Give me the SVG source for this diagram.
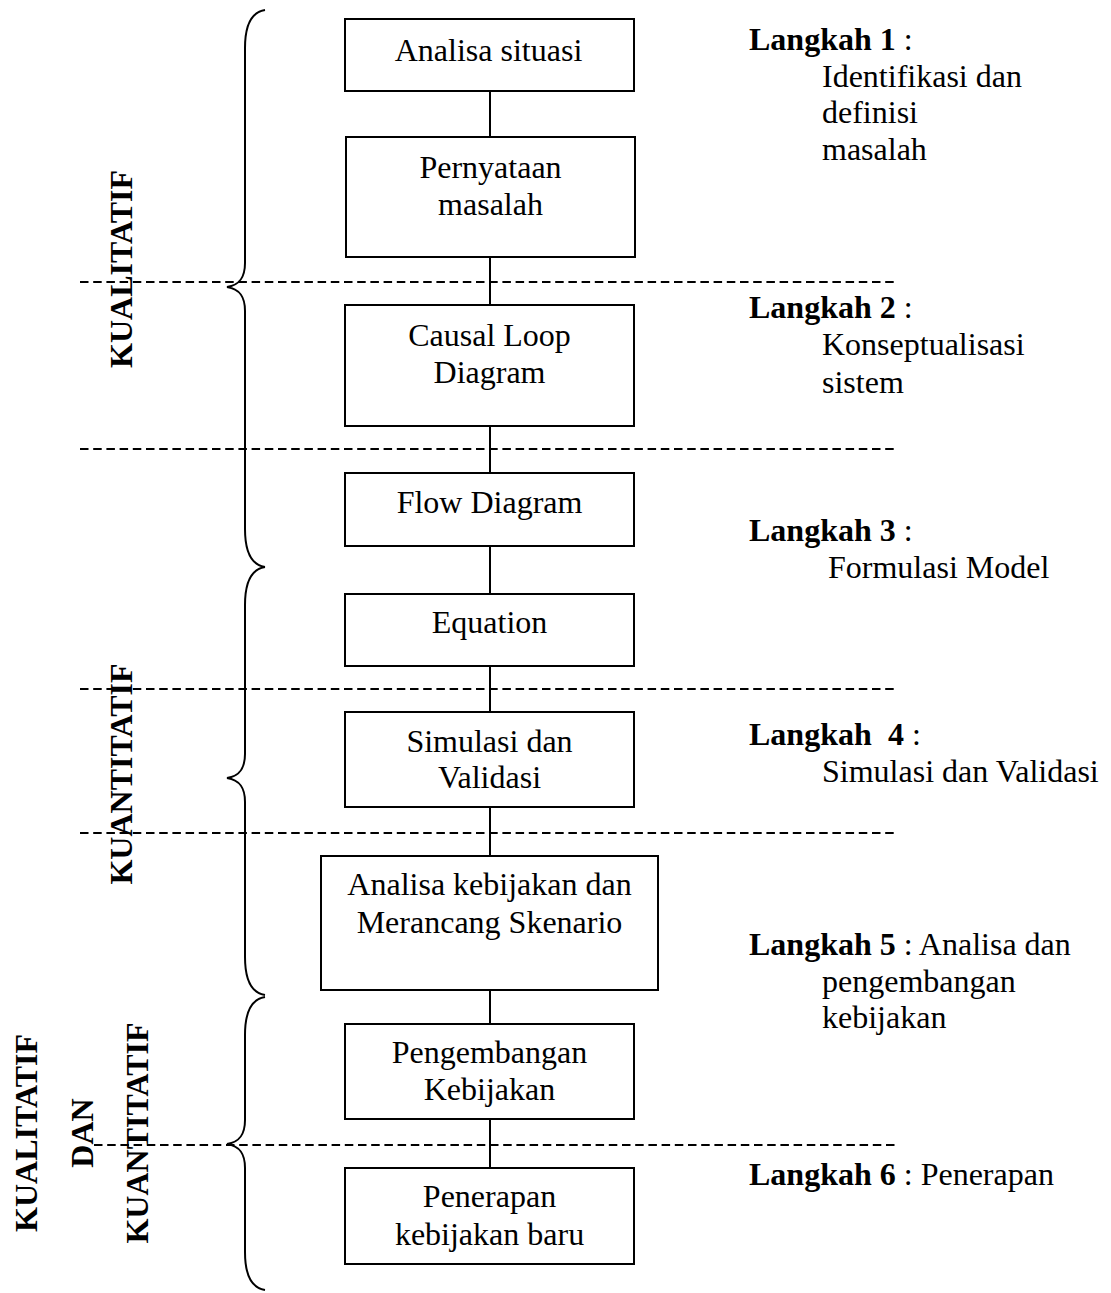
<svg xmlns="http://www.w3.org/2000/svg" width="1111" height="1293" viewBox="0 0 1111 1293">
  <style>
    .box { fill: #ffffff; stroke: #000000; stroke-width: 2; }
    .link { stroke: #000000; stroke-width: 2; fill: none; }
    .dash { stroke: #000000; stroke-width: 1.8; stroke-dasharray: 8.5 4.7; fill: none; }
    .brace { stroke: #000000; stroke-width: 2; fill: none; }
    .t { font-family: "Liberation Serif", "Times New Roman", serif; font-size: 32px; fill: #000000; }
    .c { text-anchor: middle; }
    .b { font-weight: bold; }
    .side { font-family: "Liberation Serif", "Times New Roman", serif; font-size: 32px; font-weight: bold; fill: #000000; text-anchor: middle; }
  </style>
  <rect width="1111" height="1293" fill="#ffffff"/>

  <!-- curly braces grouping the phases -->
  <g id="braces">
    <path class="brace" d="M265,10 C252,12 245,24 245,48 L245,263 C245,277 240,285 227,287 C240,289 245,297 245,311 L245,529 C245,553 252,565 265,567"/>
    <path class="brace" d="M265,567 C252,569 245,581 245,605 L245,754 C245,768 240,776 227,778 C240,780 245,788 245,802 L245,957 C245,981 252,993 265,995"/>
    <path class="brace" d="M265,997 C252,999 245,1011 245,1035 L245,1120 C245,1134 240,1142 227,1144 C240,1146 245,1154 245,1168 L245,1252 C245,1276 252,1288 265,1290"/>
  </g>

  <!-- vertical phase labels -->
  <g id="phase-labels">
    <text class="side" transform="translate(132,269) rotate(-90)">KUALITATIF</text>
    <text class="side" transform="translate(132,774) rotate(-90)">KUANTITATIF</text>
    <text class="side" transform="translate(37,1133) rotate(-90)">KUALITATIF</text>
    <text class="side" transform="translate(93,1133) rotate(-90)">DAN</text>
    <text class="side" transform="translate(148,1133) rotate(-90)">KUANTITATIF</text>
  </g>

  <!-- connectors between steps -->
  <g id="connectors">
    <line class="link" x1="490" y1="91" x2="490" y2="137"/>
    <line class="link" x1="490" y1="257" x2="490" y2="305"/>
    <line class="link" x1="490" y1="426" x2="490" y2="473"/>
    <line class="link" x1="490" y1="546" x2="490" y2="594"/>
    <line class="link" x1="490" y1="666" x2="490" y2="712"/>
    <line class="link" x1="490" y1="807" x2="490" y2="856"/>
    <line class="link" x1="490" y1="990" x2="490" y2="1024"/>
    <line class="link" x1="490" y1="1119" x2="490" y2="1168"/>
  </g>

  <!-- step boxes -->
  <g id="analisa-situasi">
    <rect class="box" x="345" y="19" width="289" height="72"/>
    <text class="t c" x="488.5" y="61">Analisa situasi</text>
  </g>
  <g id="pernyataan-masalah">
    <rect class="box" x="346" y="137" width="289" height="120"/>
    <text class="t c" x="490.5" y="178">Pernyataan</text>
    <text class="t c" x="490.5" y="215">masalah</text>
  </g>
  <g id="causal-loop-diagram">
    <rect class="box" x="345" y="305" width="289" height="121"/>
    <text class="t c" x="489.5" y="346">Causal Loop</text>
    <text class="t c" x="489.5" y="383">Diagram</text>
  </g>
  <g id="flow-diagram">
    <rect class="box" x="345" y="473" width="289" height="73"/>
    <text class="t c" x="489.5" y="513">Flow Diagram</text>
  </g>
  <g id="equation">
    <rect class="box" x="345" y="594" width="289" height="72"/>
    <text class="t c" x="489.5" y="633">Equation</text>
  </g>
  <g id="simulasi-validasi">
    <rect class="box" x="345" y="712" width="289" height="95"/>
    <text class="t c" x="489.5" y="752">Simulasi dan</text>
    <text class="t c" x="489.5" y="788">Validasi</text>
  </g>
  <g id="analisa-kebijakan">
    <rect class="box" x="321" y="856" width="337" height="134"/>
    <text class="t c" x="489.5" y="895">Analisa kebijakan dan</text>
    <text class="t c" x="489.5" y="933">Merancang Skenario</text>
  </g>
  <g id="pengembangan-kebijakan">
    <rect class="box" x="345" y="1024" width="289" height="95"/>
    <text class="t c" x="489.5" y="1063">Pengembangan</text>
    <text class="t c" x="489.5" y="1100">Kebijakan</text>
  </g>
  <g id="penerapan-kebijakan">
    <rect class="box" x="345" y="1168" width="289" height="96"/>
    <text class="t c" x="489.5" y="1207">Penerapan</text>
    <text class="t c" x="489.5" y="1245">kebijakan baru</text>
  </g>

  <!-- dashed step separators -->
  <g id="separators">
    <line class="dash" x1="80" y1="282" x2="898" y2="282"/>
    <line class="dash" x1="80" y1="449" x2="898" y2="449"/>
    <line class="dash" x1="80" y1="689" x2="898" y2="689"/>
    <line class="dash" x1="80" y1="833" x2="898" y2="833"/>
    <line class="dash" x1="94" y1="1145" x2="898" y2="1145"/>
  </g>

  <!-- step descriptions -->
  <g id="langkah-1">
    <text class="t" x="749" y="50"><tspan class="b">Langkah 1</tspan> :</text>
    <text class="t" x="822" y="87">Identifikasi dan</text>
    <text class="t" x="822" y="123">definisi</text>
    <text class="t" x="822" y="160">masalah</text>
  </g>
  <g id="langkah-2">
    <text class="t" x="749" y="318"><tspan class="b">Langkah 2</tspan> :</text>
    <text class="t" x="822" y="355">Konseptualisasi</text>
    <text class="t" x="822" y="393">sistem</text>
  </g>
  <g id="langkah-3">
    <text class="t" x="749" y="541"><tspan class="b">Langkah 3</tspan> :</text>
    <text class="t" x="828" y="578">Formulasi Model</text>
  </g>
  <g id="langkah-4">
    <text class="t" x="749" y="745"><tspan class="b">Langkah</tspan><tspan class="b" x="888">4</tspan> :</text>
    <text class="t" x="822" y="782">Simulasi dan Validasi</text>
  </g>
  <g id="langkah-5">
    <text class="t" x="749" y="955"><tspan class="b">Langkah 5</tspan> : Analisa dan</text>
    <text class="t" x="822" y="992">pengembangan</text>
    <text class="t" x="822" y="1028">kebijakan</text>
  </g>
  <g id="langkah-6">
    <text class="t" x="749" y="1185"><tspan class="b">Langkah 6</tspan> : Penerapan</text>
  </g>
</svg>
